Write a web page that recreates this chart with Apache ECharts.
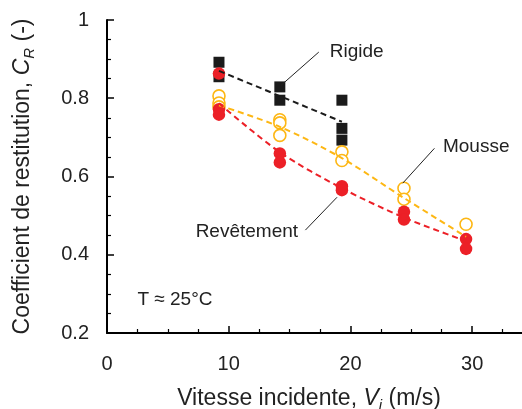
<!DOCTYPE html>
<html>
<head>
<meta charset="utf-8">
<script src="https://cdn.jsdelivr.net/npm/echarts@6/dist/echarts.min.js"></script>
<style>
  html, body { margin: 0; padding: 0; background: #fff; }
  #chart { width: 522px; height: 409px; }
</style>
</head>
<body>
<div id="chart"></div>
<script>
// Restitution coefficient vs. impact speed, three ball types, T ≈ 25°C
const FONT = '"Liberation Sans", Arial, sans-serif';

const xTicks = [0, 10, 20, 30];
const yTicks = [0.2, 0.4, 0.6, 0.8, 1];

// Rigide (filled black squares)
const rigideV  = [9.2, 9.2, 14.2, 14.2, 19.3, 19.3, 19.3];
const rigideCR = [0.892, 0.855, 0.829, 0.795, 0.795, 0.723, 0.693];

// Mousse (open orange circles)
const mousseV  = [9.2, 9.2, 9.2, 14.2, 14.2, 14.2, 19.3, 19.3, 24.4, 24.4, 29.5];
const mousseCR = [0.806, 0.788, 0.778, 0.745, 0.737, 0.705, 0.663, 0.641, 0.570, 0.542, 0.478];

// Revêtement (filled red circles)
const revetV  = [9.2, 9.2, 9.2, 14.2, 14.2, 19.3, 19.3, 24.4, 24.4, 29.5, 29.5];
const revetCR = [0.863, 0.772, 0.758, 0.659, 0.636, 0.575, 0.565, 0.510, 0.490, 0.440, 0.415];

// Trend curves
const rigideFitV  = [9.2, 19.3];
const rigideFitCR = [0.870, 0.740];
const fitV        = [9.2, 14.2, 19.3, 24.4, 29.5];
const mousseFitCR = [0.782, 0.727, 0.647, 0.545, 0.446];
const revetFitCR  = [0.787, 0.662, 0.570, 0.495, 0.435];

const BLACK = '#1b1b1b';
const ORANGE = '#FDB714';
const RED = '#EC2027';

const zip = (xs, ys) => xs.map((x, i) => [x, ys[i]]);

const chart = echarts.init(document.getElementById('chart'), null, { renderer: 'canvas' });

const axisCommon = {
  axisLine: { show: true, onZero: false, lineStyle: { color: '#000', width: 2 } },
  axisTick: { show: true, inside: true, length: 7, lineStyle: { color: '#000', width: 1.5 } },
  minorTick: { show: true, splitNumber: 4, length: 4, lineStyle: { color: '#000', width: 1.2 } },
  splitLine: { show: false },
  minorSplitLine: { show: false }
};

chart.setOption({
  animation: false,
  backgroundColor: '#fff',
  textStyle: { fontFamily: FONT },
  grid: { left: 107, top: 20, right: -11, bottom: 76, containLabel: false, outerBoundsMode: 'none' },
  xAxis: Object.assign({
    type: 'value', min: 0, max: 35, interval: 10,
    axisLabel: {
      margin: 21, fontSize: 20, color: '#222', fontFamily: FONT,
      formatter: v => xTicks.includes(v) ? String(v) : ''
    },
    name: 'Vitesse incidente, {i|V}{si|i} (m/s)',
    nameLocation: 'middle', nameGap: 54,
    nameTextStyle: {
      fontSize: 23, color: '#222', fontFamily: FONT, padding: [0, 22, 0, 0],
      rich: {
        i: { fontSize: 23, fontStyle: 'italic', color: '#222', fontFamily: FONT },
        si: { fontSize: 15, fontStyle: 'italic', color: '#222', fontFamily: FONT, verticalAlign: 'bottom', padding: [0, 0, -3, 0] }
      }
    }
  }, axisCommon),
  yAxis: Object.assign({
    type: 'value', min: 0.2, max: 1, interval: 0.2,
    axisLabel: {
      margin: 18, fontSize: 20, color: '#222', fontFamily: FONT,
      formatter: v => {
        const r = Math.round(v * 10) / 10;
        return yTicks.some(t => Math.abs(t - r) < 1e-9) ? String(r) : '';
      }
    },
    name: 'Coefficient de restitution, {i|C}{si|R} (-)',
    nameLocation: 'middle', nameGap: 73, nameRotate: 90,
    nameTextStyle: {
      fontSize: 23, color: '#222', fontFamily: FONT,
      rich: {
        i: { fontSize: 23, fontStyle: 'italic', color: '#222', fontFamily: FONT },
        si: { fontSize: 15, fontStyle: 'italic', color: '#222', fontFamily: FONT, verticalAlign: 'bottom', padding: [0, 0, -3, 0] }
      }
    }
  }, axisCommon),
  series: [
    {
      name: 'Rigide', type: 'scatter', z: 2,
      symbol: 'rect', symbolSize: 11,
      itemStyle: { color: BLACK, opacity: 1 },
      data: zip(rigideV, rigideCR)
    },
    {
      name: 'Mousse', type: 'scatter', z: 3,
      symbol: 'circle', symbolSize: 12,
      itemStyle: { color: '#fff', borderColor: ORANGE, borderWidth: 1.6, opacity: 1 },
      data: zip(mousseV, mousseCR)
    },
    {
      name: 'Revêtement', type: 'scatter', z: 4,
      symbol: 'circle', symbolSize: 12.5,
      itemStyle: { color: RED, opacity: 1 },
      data: zip(revetV, revetCR)
    },
    {
      name: 'Rigide fit', type: 'line', z: 5, showSymbol: false, symbol: 'none',
      lineStyle: { color: BLACK, width: 2, type: [6, 4] },
      data: zip(rigideFitV, rigideFitCR)
    },
    {
      name: 'Mousse fit', type: 'line', z: 5, showSymbol: false, symbol: 'none', smooth: 0.3,
      lineStyle: { color: ORANGE, width: 2, type: [6, 4] },
      data: zip(fitV, mousseFitCR)
    },
    {
      name: 'Revêtement fit', type: 'line', z: 5, showSymbol: false, symbol: 'none', smooth: 0.3,
      lineStyle: { color: RED, width: 2, type: [6, 4] },
      data: zip(fitV, revetFitCR)
    }
  ]
});

// Callout labels, anchored in data units
const px = (v, c) => chart.convertToPixel({ gridIndex: 0 }, [v, c]);
const callouts = [
  { text: 'Rigide',     at: [18.3, 0.918], align: 'left',  from: [14.3, 0.833], to: [17.4, 0.918] },
  { text: 'Mousse',     at: [27.6, 0.675], align: 'left',  from: [24.3, 0.583], to: [26.9, 0.672] },
  { text: 'Revêtement', at: [15.7, 0.458], align: 'right', from: [18.9, 0.547], to: [16.3, 0.463] }
];
const graphics = [];
callouts.forEach(c => {
  const p = px(c.at[0], c.at[1]);
  const a = px(c.from[0], c.from[1]);
  const b = px(c.to[0], c.to[1]);
  graphics.push({
    type: 'line', z: 10,
    shape: { x1: a[0], y1: a[1], x2: b[0], y2: b[1] },
    style: { stroke: '#222', lineWidth: 1 }
  });
  graphics.push({
    type: 'text', z: 10, x: p[0], y: p[1],
    style: { text: c.text, fontSize: 19, fontFamily: FONT, fill: '#222', align: c.align, verticalAlign: 'middle' }
  });
});
const tp = px(2.5, 0.284);
graphics.push({
  type: 'text', z: 10, x: tp[0], y: tp[1],
  style: { text: 'T ≈ 25°C', fontSize: 19, fontFamily: FONT, fill: '#222', align: 'left', verticalAlign: 'middle' }
});
chart.setOption({ graphic: graphics });
</script>
</body>
</html>
